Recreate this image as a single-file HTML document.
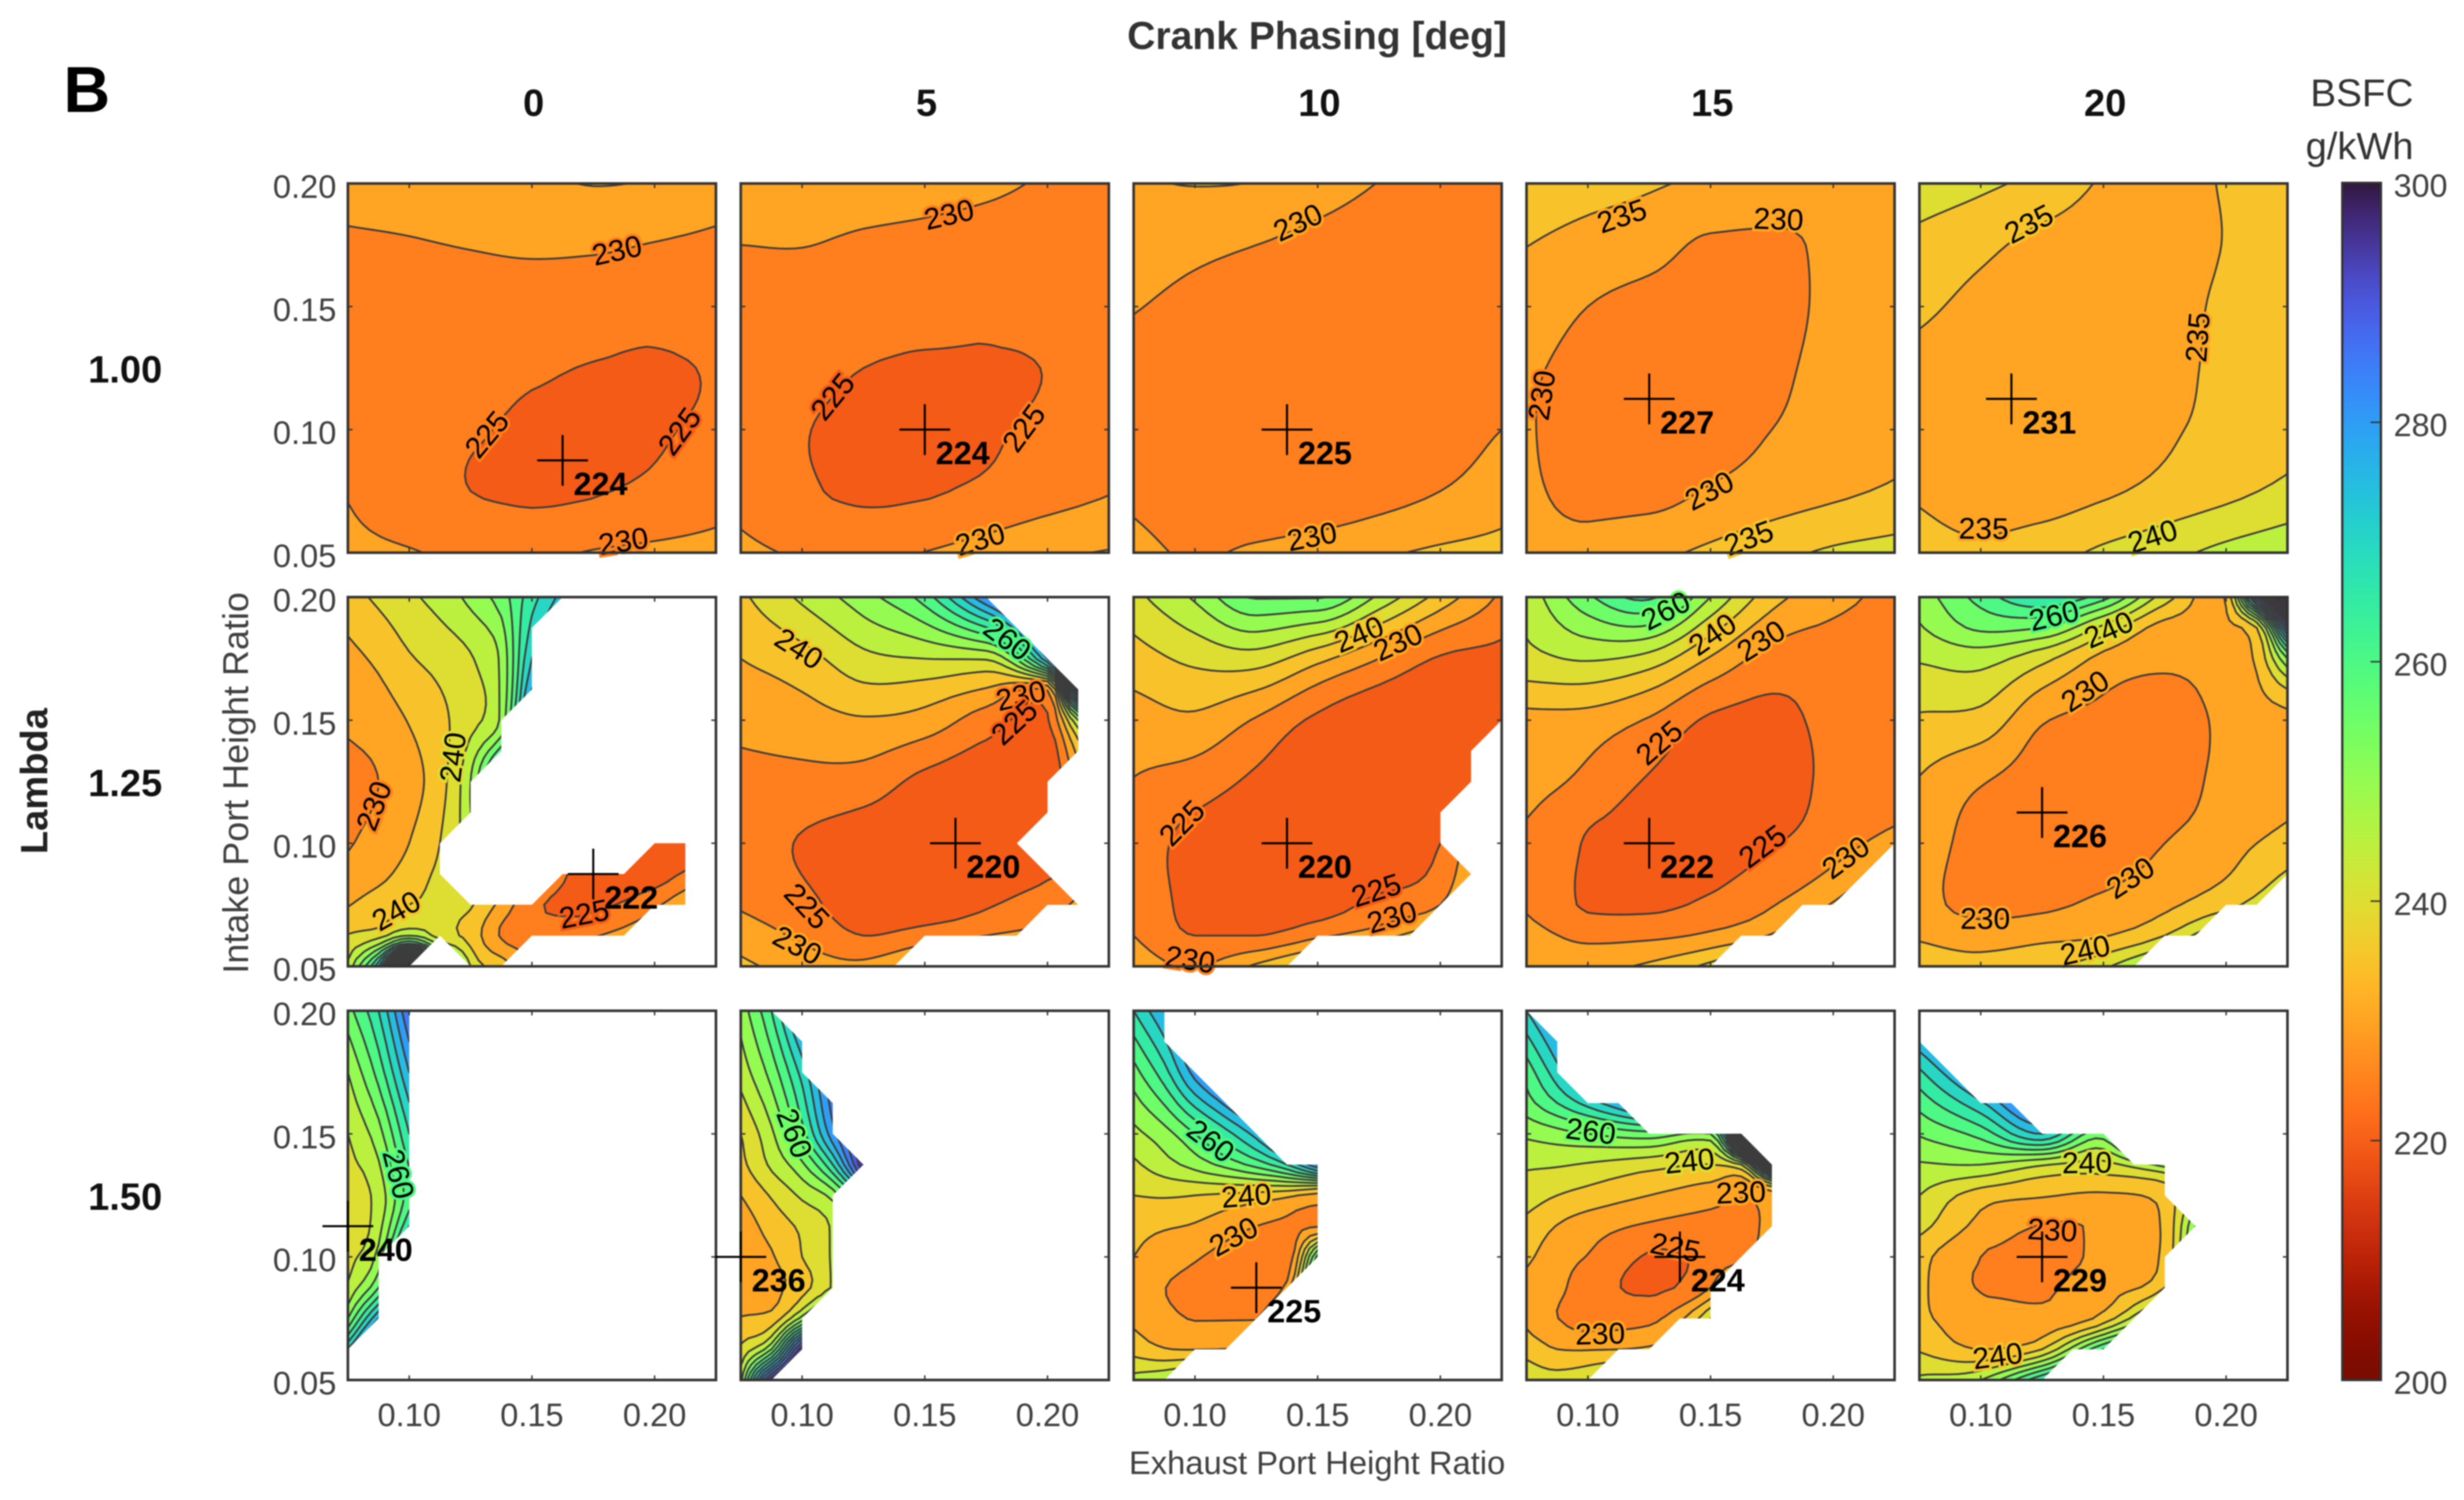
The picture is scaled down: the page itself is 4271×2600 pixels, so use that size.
<!DOCTYPE html>
<html lang="en">
<head>
<meta charset="utf-8">
<title>BSFC contour maps</title>
<style>
html,body{margin:0;padding:0;background:#fff;}
#chart{display:block;width:4271px;height:2600px;font-family:"Liberation Sans",sans-serif;filter:blur(1px);}
</style>
</head>
<body>
<svg id="chart" xmlns="http://www.w3.org/2000/svg" width="4271" height="2600" viewBox="0 0 4271 2600">
<rect x="0" y="0" width="4271" height="2600" fill="#fff"/>
<text x="110" y="194" font-size="112" font-weight="bold" fill="#000">B</text>
<text x="2283" y="85" font-size="67.7" font-weight="bold" fill="#333" text-anchor="middle">Crank Phasing [deg]</text>
<text transform="translate(82,1354) rotate(-90)" font-size="66" font-weight="bold" fill="#222" text-anchor="middle">Lambda</text>
<text transform="translate(430,1357) rotate(-90)" font-size="62.3" fill="#404040" text-anchor="middle">Intake Port Height Ratio</text>
<text x="2283" y="2555" font-size="56.7" fill="#404040" text-anchor="middle">Exhaust Port Height Ratio</text>
<text x="4094" y="184" font-size="67" fill="#333" text-anchor="middle">BSFC</text>
<text x="4090" y="276" font-size="66" fill="#333" text-anchor="middle">g/kWh</text>
<defs id="defs"></defs>
<g id="plot"></g>
</svg>
<script>
/* ---------- axis and label values ---------- */
const crankPhases = ['0','5','10','15','20'];
const lambdaLabels = ['1.00','1.25','1.50'];
const xTickValues = [0.10,0.15,0.20];
const yTickValues = [0.05,0.10,0.15,0.20];
const colorbarTicks = [200,220,240,260,280,300];

/* ---------- shared grid axes ---------- */
const gridX7 = [.075,.1,.125,.15,.175,.2,.225];
const gridX8 = [.075,.1,.125,.15,.175,.2,.2125,.225];
const gridY7 = [.2,.175,.15,.125,.1,.075,.05];
const gridY8 = [.2,.175,.15,.125,.1,.075,.0625,.05];

/* ---------- BSFC values (rows run from intake ratio 0.20 down to 0.05) ---------- */
const bsfcL100C0 = [
[231.5,232,233,234,235.2,234.5,232.5],
[229.4,229.7,230.2,230.7,230.6,229.8,229],
[228,228,228,227.8,227.5,227,226.6],
[227.5,227,226.5,225.6,224.8,224.5,225.3],
[227.5,226.5,225.4,224.4,224.1,224.6,225.8],
[229.7,227,225,224.4,224.7,226,228],
[231,230.3,229,229,230.3,231,231.5]];
const bsfcL100C5 = [
[232.5,232.5,232.3,231.7,230.8,229.6,228.8],
[230,230.1,229.3,228.8,228.3,228,227.6],
[228.5,228,227.6,227,226.6,226.4,226.3],
[227.5,226.3,225,224.4,224.4,225.1,226],
[227,225.2,224.2,224,224.5,225.8,227],
[228.5,225.6,224.4,224.6,225.9,227.8,229.7],
[231,229.5,228.8,230.1,232,234.2,235.3]];
const bsfcL100C10 = [
[234.5,235.2,234.8,232.2,229.9,228.5,227.5],
[232.5,231.2,230,228.6,227.5,226.8,226.3],
[230.3,228.6,227.5,226.6,226,225.7,225.5],
[228,227,226.3,225.7,225.5,225.7,226.3],
[227.5,226.5,225.6,225.1,225.6,227,230],
[229,227,225.8,226,227.8,230,232.8],
[231.5,229.4,231,232.7,234.3,235.8,236.5]];
const bsfcL100C15 = [
[238.5,237,235.6,234,232.8,232,231.5],
[235.1,233.2,231.8,229.3,229.2,230.8,231.5],
[232.5,230,228.5,228,228.5,231,232.5],
[230.7,228.6,227.6,227.6,229,231.5,233],
[230.4,228,227.2,228,230,232,233.5],
[231,228.4,228.3,230.4,232.3,234,235.7],
[232.5,232.3,233.8,236,238.5,240.8,242]];
const bsfcL100C20 = [
[243,241,238.5,234.5,233.7,235.3,237],
[238.5,236.2,233.5,232.3,232.5,235.2,237],
[236,233.6,232,231.5,232.8,236,237.5],
[233.5,232,231.3,231.5,233,236.5,238],
[233,231.6,231.2,232,234.2,236.7,238.5],
[234.4,232.5,232.6,234.2,236.5,238.7,241.2],
[237,236,237.8,241,243.5,246.5,249]];

const xL125C0 = [.075,.0875,.1,.1125,.125,.1375,.15,.175,.2,.225];
const yL125C0 = [.2,.175,.15,.125,.1,.0875,.075,.0625,.05];
const bsfcL125C0 = [
[238,241,244,247,251.5,257.5,268,285,300,300],
[233.5,236,239.5,241.7,244.6,251,275,295,300,300],
[231,232.5,235.3,238.7,243.5,251,285,300,300,300],
[228,230,233.2,238,250,275,290,300,300,300],
[229.5,232,235,240,248,260,240,222.5,223,224],
[232,233.7,237,241,243,240,232,222,223,229],
[234.7,237.5,240,242,240.5,233.5,226,224,229,241],
[240.3,243,250,243,238,229.5,227.5,229.5,236,245],
[246,275,340,280,245,238,232,240,250,260]];
const yL125C5 = [.2,.175,.1625,.15,.125,.1,.075,.0625,.05];
const bsfcL125C5 = [
[239,246,253,262.5,285,310,320,330],
[235,238,243.5,245,245.5,280,330,360],
[233,235.2,239,238,234.6,230.5,300,330],
[231.4,232.8,234.5,233,227.5,224.5,250,270],
[228.5,228.5,227.8,223.5,221.5,221.5,232,250],
[227.5,224.6,222,220.5,220.3,222,225,230],
[229.5,226.3,222.8,222.3,224.5,228,231,235],
[233,229,225,227.2,230,233,236,240],
[236,233,231.5,238,245,250,255,260]];
const bsfcL125C10 = [
[243.5,250.8,260.5,260.5,249,238,229],
[237.8,241.2,242.5,236.5,230,224.5,223.5],
[232.7,234,229.5,224,221.5,221,221],
[229.8,227.6,224,221.5,220.8,221,222],
[227.3,223.5,221,220.2,220.5,225,240],
[228.2,223.5,221.5,222.5,226.5,230,245],
[230,225,225,229,233,240,250],
[233,229.7,236,244,250,255,260]];
const bsfcL125C15 = [
[246.5,259,266,250,237,232,228],
[243.5,245.5,243,234.5,228,227,227],
[233.6,233,229.5,224.3,223.5,226.5,228],
[232,228.8,224.5,222.5,222,226.5,228],
[229,224.6,222.2,222.5,224.6,228,232],
[229.5,224.5,224,226,229.7,235.5,245],
[232,228.8,229,231,235.5,245,255],
[234,233.5,236,241.5,250,260,270]];
const yL125C20 = [.2,.1875,.175,.15,.125,.1,.075,.0625,.05];
const bsfcL125C20 = [
[252,262,270,262,242.5,235.5,290,340],
[249.5,256,255,243.5,233,234,240,290],
[245.5,247,241.5,233.5,230.8,232.5,236,255],
[239.3,238.2,230.5,228.7,228,231,233,234],
[234.7,230.4,227.5,226.8,227.5,231.5,232.5,233.7],
[233,227.8,226.2,226.8,230,233.2,235,236.8],
[232,228,229,231.2,234,238.5,242,247],
[234.6,233.3,233.8,234.7,240,252,256,262],
[236.5,236.2,238.5,244,255,270,277,285]];

const xL150C0 = [.075,.0875,.1];
const yL150C0 = [.2,.175,.15,.125,.1125,.1,.0875,.075,.0625,.05];
const bsfcL150C0 = [
[258,270,290],[250,262,280],[245,253,270],[242,247,263],[241,248,270],
[243,252,285],[246,260,290],[255,280,300],[275,300,310],[300,310,320]];
const xL150C5 = [.075,.0875,.1,.1125,.125];
const yL150C5 = [.2,.175,.15,.1375,.125,.1125,.1,.0875,.075,.0625,.05];
const bsfcL150C5 = [
[252,265,285,300,310],
[247,257,272,290,300],
[240,249,263,283,300],
[238.5,246,254,270,300],
[235,240.5,246,252,270],
[232,237,241,245.5,250],
[232,234.5,240,245.5,250],
[232,233.5,238,245.5,250],
[235.3,237,252,275,290],
[241,255,300,320,330],
[248,300,320,330,340]];
const xL150C10 = [.075,.0875,.1,.125,.1375,.15];
const yL150C10 = [.2,.175,.15,.1375,.125,.1125,.1,.0875,.075,.0625,.05];
const bsfcL150C10 = [
[270,280,290,300,305,310],
[258,268,282,300,305,310],
[248.5,253,260,277,290,300],
[244,248,252,262,270,285],
[240,240.5,240,238,236,233],
[236.5,235.5,234.5,230,229,229.5],
[235,232.5,230.5,226.5,227,262],
[233,230.1,228.5,225.5,232,275],
[234,231.5,229.8,229.8,250,280],
[238.2,235.3,234.8,236.5,260,285],
[247,250,255,265,270,290]];
const xL150C15 = [.075,.0875,.1,.125,.15,.1625,.175];
const yL150C15 = [.2,.175,.1625,.15,.1375,.125,.1125,.1,.0875,.075,.0625,.05];
const bsfcL150C15 = [
[275,285,295,300,300,300,300],
[262,273,284,295,300,300,300],
[258,265,272,285,295,300,300],
[251,253,255,258,255,320,450],
[245.7,245.5,244.5,242,240,245,300],
[242.5,240,238.2,235,232.3,230.5,232],
[238.5,234.8,232.3,229.3,228,228,232],
[236,232.2,229.8,224.6,226.2,229,235],
[233.5,231.2,227.3,224.4,230,250,260],
[234,230.1,228,228.8,245,270,280],
[238.3,235,234.7,236,250,270,290],
[243.5,242.5,245,255,270,280,300]];
const xL150C20 = [.075,.1,.125,.15,.175,.1875];
const yL150C20 = [.2,.175,.15,.1375,.125,.1125,.1,.0875,.075,.0625,.05];
const bsfcL150C20 = [
[288,300,305,310,310,310],
[269,285,300,300,305,310],
[255.5,262,275,258,300,300],
[249.5,250,245.5,243.5,252,260],
[245,237.5,235.5,234.3,237,250],
[241.7,233.5,229.8,230.8,236,255],
[236.5,230,229,231,236.3,260],
[236,229.8,229.5,233,240,270],
[236,232,231.5,237,260,280],
[239.5,235,240,265,280,290],
[246,250,270,290,300,300]];

/* ---------- measured operating region (exhaust, intake), null = whole map ---------- */
const regionL125C0 = [[.075,.2],[.1625,.2],[.15,.1875],[.15,.1625],[.1375,.15],[.1375,.1375],[.125,.125],[.125,.1125],[.1125,.1],[.1125,.0875],[.125,.075],[.15,.075],[.1625,.0875],[.1875,.0875],[.2,.1],[.2125,.1],[.2125,.075],[.2,.075],[.1875,.0625],[.15,.0625],[.1375,.05],[.125,.05],[.1125,.0625],[.1,.05],[.075,.05]];
const regionL125C5 = [[.075,.2],[.175,.2],[.2125,.1625],[.2125,.1375],[.2,.125],[.2,.1125],[.1875,.1],[.2,.0875],[.2125,.075],[.2,.075],[.1875,.0625],[.15,.0625],[.1375,.05],[.075,.05]];
const regionL125C10 = [[.075,.2],[.225,.2],[.225,.15],[.2125,.1375],[.2125,.125],[.2,.1125],[.2,.1],[.2125,.0875],[.2,.075],[.1875,.0625],[.15,.0625],[.1375,.05],[.075,.05]];
const regionL125C15 = [[.075,.2],[.225,.2],[.225,.1],[.2,.075],[.1875,.075],[.175,.0625],[.1625,.0625],[.15,.05],[.075,.05]];
const regionL125C20 = [[.075,.2],[.225,.2],[.225,.0875],[.2125,.075],[.2,.075],[.1875,.0625],[.175,.0625],[.1625,.05],[.075,.05]];
const regionL150C0 = [[.075,.2],[.1,.2],[.1,.1125],[.0875,.1],[.0875,.075],[.075,.0625]];
const regionL150C5 = [[.075,.2],[.0875,.2],[.1,.1875],[.1,.175],[.1125,.1625],[.1125,.15],[.125,.1375],[.1125,.125],[.1125,.0875],[.1,.075],[.1,.0625],[.0875,.05],[.075,.05]];
const regionL150C10 = [[.075,.2],[.0875,.2],[.0875,.1875],[.1375,.1375],[.15,.1375],[.15,.1],[.1375,.0875],[.125,.075],[.1125,.0625],[.1,.0625],[.0875,.05],[.075,.05]];
const regionL150C15 = [[.075,.2],[.0875,.1875],[.0875,.175],[.1,.1625],[.1125,.1625],[.125,.15],[.1625,.15],[.175,.1375],[.175,.1125],[.15,.0875],[.15,.075],[.1375,.075],[.125,.0625],[.1125,.0625],[.1,.05],[.075,.05]];
const regionL150C20 = [[.075,.1875],[.1,.1625],[.1125,.1625],[.125,.15],[.15,.15],[.1625,.1375],[.175,.1375],[.175,.125],[.1875,.1125],[.175,.1],[.175,.0875],[.15,.0625],[.1375,.0625],[.125,.05],[.075,.05]];

/* ---------- contour labels: level, exhaust ratio, intake ratio ---------- */
const labelsL100C0 = [[230,.1847,.1726],[225,.1318,.0979],[225,.2103,.0992],[230,.1873,.0545]];
const labelsL100C5 = [[230,.1599,.1872],[225,.1126,.1133],[225,.1905,.1005],[230,.1726,.0553]];
const labelsL100C10 = [[230,.142,.184],[230,.1477,.0564]];
const labelsL100C15 = [[235,.1139,.1866],[230,.1777,.1853],[230,.0814,.1139],[230,.1496,.075],[235,.1656,.0558]];
const labelsL100C20 = [[235,.1197,.1834],[235,.1886,.1375],[235,.1012,.0596],[240,.1701,.0565]];
const labelsL125C0 = [[230,.0858,.1151],[240,.118,.1349],[240,.0948,.0724],[225,.1713,.0711]];
const labelsL125C5 = [[240,.0986,.1789],[260,.1835,.1828],[230,.1892,.1598],[225,.1866,.149],[225,.1018,.0743],[230,.098,.0584]];
const labelsL125C10 = [[240,.1669,.1847],[230,.1828,.1815],[225,.0948,.1081],[225,.1739,.0807],[230,.1803,.0698],[230,.098,.0526]];
const labelsL125C15 = [[260,.1318,.1943],[240,.1509,.1847],[230,.1707,.1821],[225,.1292,.1407],[225,.1713,.0986],[230,.2052,.0941]];
const labelsL125C20 = [[260,.1299,.1923],[240,.1522,.1866],[230,.1426,.1617],[230,.1611,.0858],[230,.1018,.0692],[240,.1426,.0564]];
const labelsL150C0 = [[260,.0954,.1336]];
const labelsL150C5 = [[260,.0967,.1502]];
const labelsL150C10 = [[260,.1063,.147],[240,.1209,.1247],[230,.1158,.1081]];
const labelsL150C15 = [[260,.1012,.1509],[240,.1414,.1388],[230,.1624,.126],[225,.1356,.1037],[230,.105,.0686]];
const labelsL150C20 = [[240,.1433,.1381],[230,.1292,.1107],[240,.1069,.0596]];

/* ---------- optimum markers, one per map ---------- */
const optimumExhaust = [.1625,.15,.1375,.125,.1125, .175,.1625,.1375,.125,.125, .075,.075,.125,.1375,.125];
const optimumIntake  = [.0875,.1,.1,.1125,.1125, .0875,.1,.1,.1,.1125, .1125,.1,.0875,.1,.1];
const optimumBsfc    = [224,224,225,227,231, 222,220,220,222,226, 240,236,225,224,229];

const mapXs = [gridX7,gridX7,gridX7,gridX7,gridX7, xL125C0,gridX8,gridX7,gridX7,gridX8, xL150C0,xL150C5,xL150C10,xL150C15,xL150C20];
const mapYs = [gridY7,gridY7,gridY7,gridY7,gridY7, yL125C0,yL125C5,gridY8,gridY8,yL125C20, yL150C0,yL150C5,yL150C10,yL150C15,yL150C20];
const mapValues = [bsfcL100C0,bsfcL100C5,bsfcL100C10,bsfcL100C15,bsfcL100C20, bsfcL125C0,bsfcL125C5,bsfcL125C10,bsfcL125C15,bsfcL125C20, bsfcL150C0,bsfcL150C5,bsfcL150C10,bsfcL150C15,bsfcL150C20];
const mapRegions = [null,null,null,null,null, regionL125C0,regionL125C5,regionL125C10,regionL125C15,regionL125C20, regionL150C0,regionL150C5,regionL150C10,regionL150C15,regionL150C20];
const mapLabels = [labelsL100C0,labelsL100C5,labelsL100C10,labelsL100C15,labelsL100C20, labelsL125C0,labelsL125C5,labelsL125C10,labelsL125C15,labelsL125C20, labelsL150C0,labelsL150C5,labelsL150C10,labelsL150C15,labelsL150C20];

/* ---------- layout and scales ---------- */
const NS = 'http://www.w3.org/2000/svg';
const plot = document.getElementById('plot');
const defs = document.getElementById('defs');
const PANEL_W = 638, PANEL_H = 640, COL0 = 603, COL_STEP = 681, ROW0 = 318, ROW_STEP = 717;
const X_MIN = .075, X_MAX = .225, Y_MIN = .05, Y_MAX = .2;
const STEP = 5, BASE = 200, FINE = 48;
const FRAME = '#333';

function xScale(col, v){ return COL0 + col*COL_STEP + (v-X_MIN)/(X_MAX-X_MIN)*PANEL_W; }
function yScale(row, v){ return ROW0 + row*ROW_STEP + (Y_MAX-v)/(Y_MAX-Y_MIN)*PANEL_H; }

function svgEl(tag, attrs, parent){
  const node = document.createElementNS(NS, tag);
  for (const k in attrs) node.setAttribute(k, attrs[k]);
  parent.appendChild(node);
  return node;
}
function turbo(t){
  t = Math.max(0, Math.min(1, t));
  const c = x => Math.max(0, Math.min(255, Math.round(x)));
  let r = 34.61 + t*(1172.33 - t*(10793.56 - t*(33300.12 - t*(38394.49 - t*14825.05))));
  const g = 23.31 + t*(557.33 + t*(1225.33 - t*(3574.96 - t*(1073.77 + t*707.56))));
  let b = 27.2 + t*(3211.1 - t*(15327.97 - t*(27814 - t*(22569.18 - t*6838.66))));
  if (t < .05){ r += 13*(1-t/.05); b += 32*(1-t/.05); }
  if (t > .9){ r -= 22*(t-.9)/.1; }
  return 'rgb(' + c(r) + ',' + c(g) + ',' + c(b) + ')';
}
function bsfcColor(v){
  const shift = v <= 225 ? .006 : 0;
  return turbo((300 - v)/100 + shift);
}

/* limited cubic interpolation between grid nodes */
function interp(xs, vs, x){
  const n = xs.length;
  if (x <= xs[0]) return vs[0];
  if (x >= xs[n-1]) return vs[n-1];
  let i = 0;
  while (i < n-2 && x > xs[i+1]) i++;
  const h = xs[i+1]-xs[i], d = (vs[i+1]-vs[i])/h;
  const slope = k => {
    if (k <= 0) return (vs[1]-vs[0])/(xs[1]-xs[0]);
    if (k >= n-1) return (vs[n-1]-vs[n-2])/(xs[n-1]-xs[n-2]);
    const d0 = (vs[k]-vs[k-1])/(xs[k]-xs[k-1]), d1 = (vs[k+1]-vs[k])/(xs[k+1]-xs[k]);
    let m = (vs[k+1]-vs[k-1])/(xs[k+1]-xs[k-1]);
    const lim = 3*Math.min(Math.abs(d0), Math.abs(d1));
    if (Math.abs(m) > lim) m = Math.sign(m)*lim;
    return m;
  };
  const m0 = slope(i), m1 = slope(i+1), t = (x-xs[i])/h, t2 = t*t, t3 = t2*t;
  return (2*t3-3*t2+1)*vs[i] + (t3-2*t2+t)*h*m0 + (-2*t3+3*t2)*vs[i+1] + (t3-t2)*h*m1;
}
function sampleField(xs, ys, vals){
  const xf = [], yf = [];
  for (let i = 0; i <= FINE; i++){ xf.push(X_MIN + (X_MAX-X_MIN)*i/FINE); yf.push(Y_MAX - (Y_MAX-Y_MIN)*i/FINE); }
  const rows = vals.map(r => xf.map(x => interp(xs, r, x)));
  const negY = ys.map(v => -v);
  const field = yf.map(() => []);
  xf.forEach((x, j) => {
    const col = rows.map(r => r[j]);
    yf.forEach((y, k) => { field[k][j] = interp(negY, col, -y); });
  });
  return field;
}
function clipPoly(poly, L, above){
  const out = [];
  for (let i = 0; i < poly.length; i++){
    const P = poly[i], Q = poly[(i+1)%poly.length];
    const pin = above ? P[2] >= L : P[2] <= L;
    const qin = above ? Q[2] >= L : Q[2] <= L;
    if (pin) out.push(P);
    if (pin !== qin){
      const t = (L-P[2])/(Q[2]-P[2]);
      out.push([P[0]+t*(Q[0]-P[0]), P[1]+t*(Q[1]-P[1]), L]);
    }
  }
  return out;
}
function polyPath(poly){
  let s = '';
  poly.forEach((p, i) => { s += (i ? 'L' : 'M') + p[0].toFixed(1) + ' ' + p[1].toFixed(1); });
  return s + 'Z';
}

function drawPanel(row, col, idx){
  const field = sampleField(mapXs[idx], mapYs[idx], mapValues[idx]);
  const left = COL0 + col*COL_STEP, top = ROW0 + row*ROW_STEP;
  const cw = PANEL_W/FINE, ch = PANEL_H/FINE;

  const group = svgEl('g', {}, plot);
  
  

  const clipId = 'clip-' + idx;
  const clip = svgEl('clipPath', {id: clipId}, defs);
  const region = mapRegions[idx] || [[X_MIN,Y_MAX],[X_MAX,Y_MAX],[X_MAX,Y_MIN],[X_MIN,Y_MIN]];
  svgEl('polygon', {points: region.map(p => xScale(col,p[0]).toFixed(1)+','+yScale(row,p[1]).toFixed(1)).join(' ')}, clip);

  const bands = {}, lines = {};
  const addBand = (k, s) => { bands[k] = (bands[k] || '') + s; };
  const addLine = (k, s) => { lines[k] = (lines[k] || '') + s; };
  for (let j = 0; j < FINE; j++){
    for (let i = 0; i < FINE; i++){
      const x0 = left + i*cw, x1 = x0 + cw, y0 = top + j*ch, y1 = y0 + ch;
      const a = field[j][i], b = field[j][i+1], c = field[j+1][i+1], d = field[j+1][i];
      const mn = Math.min(a,b,c,d), mx = Math.max(a,b,c,d);
      const quad = [[x0,y0,a],[x1,y0,b],[x1,y1,c],[x0,y1,d]];
      const kLo = Math.floor((mn-BASE)/STEP), kHi = Math.floor((mx-BASE)/STEP);
      if (kLo === kHi){ addBand(kLo, polyPath(quad)); continue; }
      for (let k = kLo; k <= kHi; k++){
        const lo = BASE + k*STEP, hi = lo + STEP;
        const poly = clipPoly(clipPoly(quad, lo, true), hi, false);
        if (poly.length > 2) addBand(k, polyPath(poly));
      }
      for (let k = kLo+1; k <= kHi; k++){
        const L = BASE + k*STEP, cross = [];
        for (let e = 0; e < 4; e++){
          const P = quad[e], Q = quad[(e+1)%4];
          if ((P[2] >= L) !== (Q[2] >= L)){
            const t = (L-P[2])/(Q[2]-P[2]);
            cross.push([P[0]+t*(Q[0]-P[0]), P[1]+t*(Q[1]-P[1])]);
          }
        }
        for (let q = 0; q+1 < cross.length; q += 2){
          addLine(k, 'M'+cross[q][0].toFixed(1)+' '+cross[q][1].toFixed(1)+'L'+cross[q+1][0].toFixed(1)+' '+cross[q+1][1].toFixed(1));
        }
      }
    }
  }

  const clipped = svgEl('g', {'clip-path': 'url(#' + clipId + ')'}, group);
  
  
  Object.keys(bands).map(Number).sort((p,q) => p-q).forEach(k => {
    const col0 = bsfcColor(BASE + k*STEP);
    const el = svgEl('path', {d: bands[k], fill: col0, stroke: col0, 'stroke-width': 1.4}, clipped);
    
    
  });
  Object.keys(lines).map(Number).sort((p,q) => p-q).forEach(k => {
    const el = svgEl('path', {d: lines[k], fill: 'none', stroke: '#3c3c3c', 'stroke-width': 3.2, 'stroke-linecap': 'round'}, clipped);
    
    
  });

  /* contour labels follow the local contour direction */
  mapLabels[idx].forEach(lab => {
    const i = Math.max(2, Math.min(FINE-2, Math.round((lab[1]-X_MIN)/(X_MAX-X_MIN)*FINE)));
    const j = Math.max(2, Math.min(FINE-2, Math.round((Y_MAX-lab[2])/(Y_MAX-Y_MIN)*FINE)));
    const gx = field[j][i+2]-field[j][i-2], gy = field[j+2][i]-field[j-2][i];
    let ang = Math.atan2(-gx, gy)*180/Math.PI;
    if (ang > 90) ang -= 180;
    if (ang < -90) ang += 180;
    const v = field[j][i];
    const band = BASE + Math.floor((v-BASE)/STEP)*STEP;
    const px = xScale(col, lab[1]), py = yScale(row, lab[2]);
    const el = svgEl('text', {
      transform: 'translate(' + px.toFixed(1) + ',' + py.toFixed(1) + ') rotate(' + ang.toFixed(1) + ')',
      'font-size': 52, 'text-anchor': 'middle', 'dominant-baseline': 'central', fill: '#000',
      stroke: bsfcColor(band), 'stroke-width': 9, 'paint-order': 'stroke'
    }, group);
    
    
    el.textContent = String(lab[0]);
  });

  /* frame and ticks */
  const frame = svgEl('rect', {x: left, y: top, width: PANEL_W, height: PANEL_H, fill: 'none', stroke: FRAME, 'stroke-width': 4.5}, group);
  
  
  xTickValues.forEach(v => {
    const px = xScale(col, v);
    const t = svgEl('path', {d: 'M'+px+' '+top+'v8M'+px+' '+(top+PANEL_H)+'v-8', stroke: FRAME, 'stroke-width': 2.5, fill: 'none'}, group);
    
    
    if (row === 2){
      const tl = svgEl('text', {x: px, y: 2472, 'font-size': 56.5, 'text-anchor': 'middle', fill: '#404040'}, group);
      
      
      tl.textContent = v.toFixed(2);
    }
  });
  yTickValues.forEach(v => {
    const py = yScale(row, v);
    const t = svgEl('path', {d: 'M'+left+' '+py+'h8M'+(left+PANEL_W)+' '+py+'h-8', stroke: FRAME, 'stroke-width': 2.5, fill: 'none'}, group);
    
    
    if (col === 0){
      const tl = svgEl('text', {x: 583, y: py + 25, 'font-size': 56.5, 'text-anchor': 'end', fill: '#404040'}, group);
      
      
      tl.textContent = v.toFixed(2);
    }
  });

  /* optimum cross and value */
  const ox = xScale(col, optimumExhaust[idx]), oy = yScale(row, optimumIntake[idx]);
  const cross = svgEl('path', {d: 'M'+(ox-44)+' '+oy+'h88M'+ox+' '+(oy-44)+'v88', stroke: '#000', 'stroke-width': 3.5, fill: 'none'}, group);
  
  
  const val = svgEl('text', {x: ox + 19, y: oy + 60, 'font-size': 56, 'font-weight': 'bold', fill: '#000'}, group);
  
  
  val.textContent = String(optimumBsfc[idx]);
}

lambdaLabels.forEach((lab, r) => {
  const t = svgEl('text', {x: 217, y: ROW0 + r*ROW_STEP + 345, 'font-size': 66, 'font-weight': 'bold', 'text-anchor': 'middle', fill: '#111'}, plot);
  
  
  t.textContent = lab;
  crankPhases.forEach((ph, c) => { drawPanel(r, c, r*5 + c); });
});
crankPhases.forEach((ph, c) => {
  const t = svgEl('text', {x: COL0 + c*COL_STEP + PANEL_W/2 + 3, y: 201, 'font-size': 66, 'font-weight': 'bold', 'text-anchor': 'middle', fill: '#111'}, plot);
  
  
  t.textContent = ph;
});

/* colorbar */
const CB_X = 4060, CB_W = 67, CB_TOP = 317, CB_BOTTOM = 2392;
function cbScale(v){ return CB_BOTTOM - (v-200)/100*(CB_BOTTOM-CB_TOP); }
const grad = svgEl('linearGradient', {id: 'cb-grad', x1: 0, y1: 0, x2: 0, y2: 1}, defs);
for (let i = 0; i <= 40; i++){
  svgEl('stop', {offset: (i/40*100) + '%', 'stop-color': turbo(i/40)}, grad);
}
const cb = svgEl('rect', {x: CB_X, y: CB_TOP, width: CB_W, height: CB_BOTTOM-CB_TOP, fill: 'url(#cb-grad)', stroke: FRAME, 'stroke-width': 4}, plot);


colorbarTicks.forEach(v => {
  const py = cbScale(v);
  const t = svgEl('path', {d: 'M'+(CB_X+CB_W)+' '+py+'h-18', stroke: FRAME, 'stroke-width': 2.5, fill: 'none'}, plot);
  
  
  const tl = svgEl('text', {x: 4149, y: py + 24, 'font-size': 56, fill: '#404040'}, plot);
  
  
  tl.textContent = String(v);
});
</script>
</body>
</html>
